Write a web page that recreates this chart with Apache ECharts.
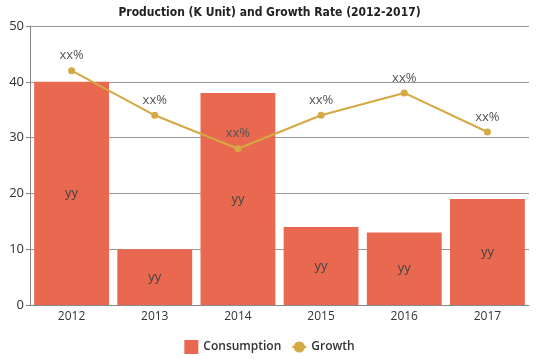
<!DOCTYPE html>
<html><head><meta charset="utf-8">
<script src="https://cdn.jsdelivr.net/npm/echarts@6/dist/echarts.min.js"></script>
<style>html,body{margin:0;padding:0;background:#fff}#c{width:539px;height:359px}</style>
</head><body><div id="c"></div>
<script>
var categories = ['2012','2013','2014','2015','2016','2017'];
var consumption = [40, 10, 38, 14, 13, 19];
var growth = [42, 34, 28, 34, 38, 31];
var yTicks = [0, 10, 20, 30, 40, 50];

var chart = echarts.init(document.getElementById('c'));
chart.setOption({
  animation: false,
  title: {
    text: 'Production (K Unit) and Growth Rate (2012-2017)',
    left: 'center', top: 2,
    textStyle: {fontFamily: 'DejaVu Sans Condensed', fontWeight: 'bold', fontSize: 12, color: '#222'}
  },
  legend: {
    bottom: 0, left: 'center', itemWidth: 14, itemHeight: 14, itemGap: 10,
    textStyle: {fontFamily: 'Open Sans', fontSize: 12, fontWeight: 600, color: '#333'},
    data: [{name: 'Consumption', icon: 'rect'}, {name: 'Growth'}]
  },
  grid: {left: 30, right: 10, top: 26, bottom: 54},
  xAxis: {
    type: 'category', data: categories,
    axisLine: {lineStyle: {color: '#888'}},
    axisTick: {show: false},
    axisLabel: {fontFamily: 'Open Sans', fontSize: 12, color: '#333', margin: 6}
  },
  yAxis: {
    type: 'value', min: yTicks[0], max: yTicks[yTicks.length-1], interval: 10,
    axisLine: {show: true, lineStyle: {color: '#888'}},
    axisTick: {show: true, length: 4, lineStyle: {color: '#888'}},
    axisLabel: {fontFamily: 'Open Sans', fontSize: 13, color: '#333', margin: 6},
    splitLine: {lineStyle: {color: '#999'}}
  },
  series: [{
    name: 'Consumption', type: 'bar', data: consumption, barCategoryGap: '10%',
    itemStyle: {color: '#E8694F'},
    label: {show: true, position: 'inside', formatter: 'yy', fontFamily: 'Open Sans', fontSize: 13, color: '#444'}
  }, {
    name: 'Growth', type: 'line', data: growth, symbol: 'circle', symbolSize: 7,
    itemStyle: {color: '#D4A843'}, lineStyle: {color: '#D4A843', width: 2},
    label: {show: true, position: 'top', formatter: 'xx%', fontFamily: 'Open Sans', fontSize: 13, color: '#555', distance: 5}
  }]
});
</script></body></html>
